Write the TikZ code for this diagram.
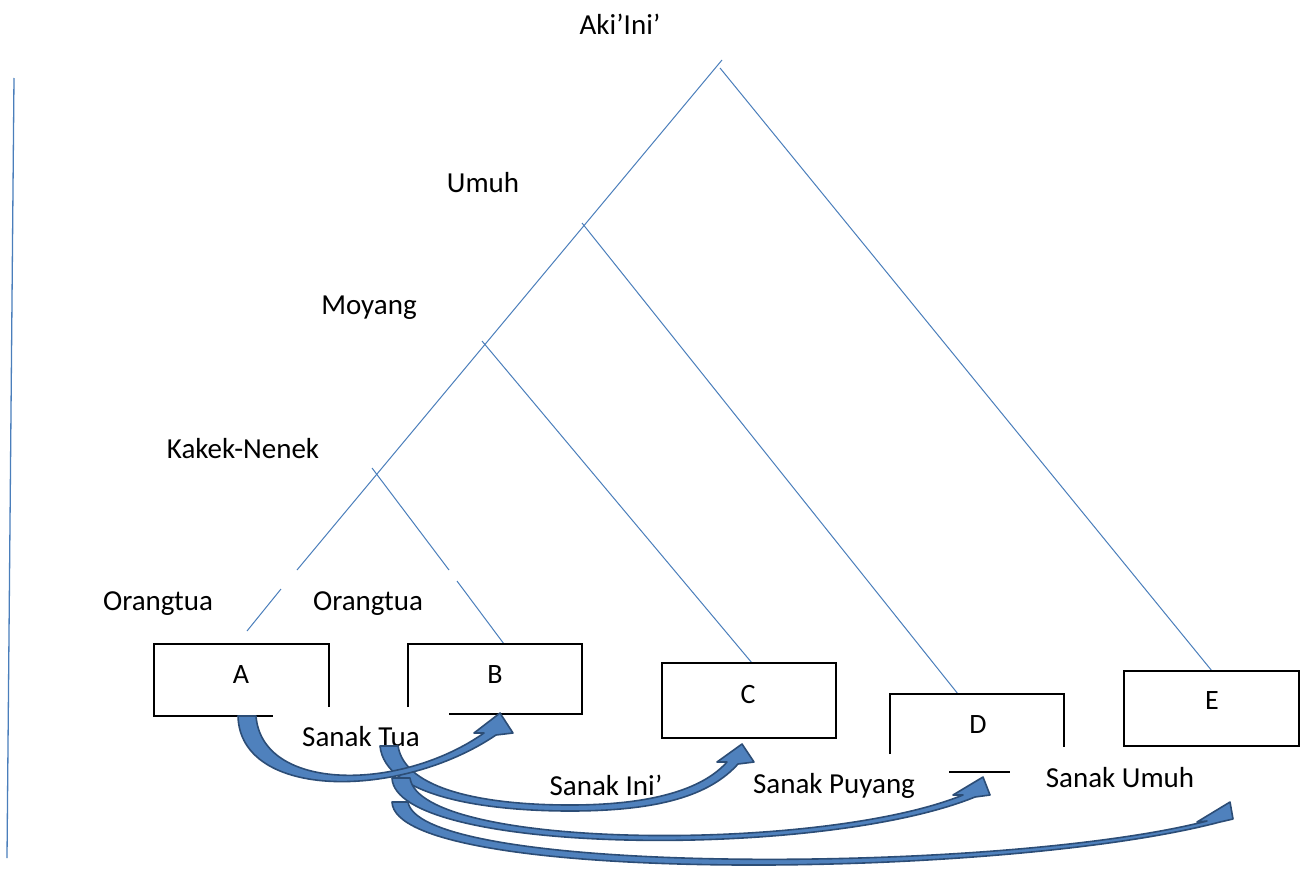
\documentclass[tikz,border=0pt]{standalone}
\usepackage{fontspec}
\setmainfont{Carlito}
\definecolor{linecol}{RGB}{74,126,187}
\definecolor{arrowfill}{RGB}{79,129,189}
\definecolor{arrowdraw}{RGB}{44,77,118}
\begin{document}
\begin{tikzpicture}[x=1pt,y=-1pt,
  lbl/.style={font=\fontsize{29}{34}\selectfont, inner sep=0pt, anchor=base},
  boxlbl/.style={font=\fontsize{28}{33}\selectfont, inner sep=0pt, anchor=base},
  tree/.style={draw=linecol, line width=1pt},
  boxline/.style={draw=black, line width=1.3pt},
  sarrow/.style={fill=arrowfill, draw=arrowdraw, line width=1.6pt, line join=round}]
\useasboundingbox (0,0) rectangle (1303,875);

% left vertical line
\coordinate (vtop) at (14,78);
\coordinate (vbot) at (7,858);
\draw[tree, line width=1.3pt] (vtop) -- (vbot);

% tree coordinates
\coordinate (apexL) at (722,60);
\coordinate (apexR) at (720,68);
\coordinate (gapA1) at (297,570);
\coordinate (gapA2) at (281,589);
\coordinate (endA) at (247,631);
\coordinate (brD) at (582,223);
\coordinate (brC) at (482,341);
\coordinate (brB) at (372,468);
\coordinate (gapB1) at (449,570);
\coordinate (gapB2) at (457,581);
\coordinate (topB) at (504,644);
\coordinate (topC) at (752,663);
\coordinate (topD) at (958,694);
\coordinate (topE) at (1212,671);

\draw[tree] (apexL) -- (gapA1);
\draw[tree] (gapA2) -- (endA);
\draw[tree] (apexR) -- (topE);
\draw[tree] (brD) -- (topD);
\draw[tree] (brC) -- (topC);
\draw[tree] (brB) -- (gapB1);
\draw[tree] (gapB2) -- (topB);

% boxes
\draw[boxline] (329,707) -- (329,644) -- (154,644) -- (154,716) -- (273,716);
\draw[boxline] (408,707) -- (408,644) -- (582,644) -- (582,714) -- (449,714);
\draw[boxline] (662,663) rectangle (836,738);
\draw[boxline] (890,754) -- (890,694) -- (1064,694) -- (1064,747);
\draw[boxline] (949,772) -- (1010,772);
\draw[boxline] (1124,671) rectangle (1299,746);

% labels
\node[lbl] (aki) at (620,35) {Aki’Ini’};
\node[lbl] (umuh) at (483,192) {Umuh};
\node[lbl] (moyang) at (369,314) {Moyang};
\node[lbl] (kakek) at (243,458) {Kakek-Nenek};
\node[lbl] (ortu1) at (158,610) {Orangtua};
\node[lbl] (ortu2) at (368,610) {Orangtua};
\node[boxlbl] (A) at (241,683) {A};
\node[boxlbl] (B) at (495,683) {B};
\node[boxlbl] (C) at (748,703) {C};
\node[boxlbl] (D) at (978,733) {D};
\node[boxlbl] (E) at (1212,709) {E};
\node[lbl] (stua) at (361,746) {Sanak Tua};
\node[lbl] (sini) at (606,795) {Sanak Ini’};
\node[lbl] (spuy) at (834,793) {Sanak Puyang};
\node[lbl] (sumuh) at (1120,787) {Sanak Umuh};

% curved block arrows
% Sanak Ini' (to C)
\draw[sarrow] (380,746) .. controls (385,795) and (480,811) .. (570,811)
  .. controls (660,811) and (710,795) .. (738,764)
  -- (754,762) -- (742,744) -- (717,762) -- (727,762)
  .. controls (702,790) and (650,805) .. (570,805)
  .. controls (485,805) and (405,790) .. (398,746) -- cycle;
% Sanak Tua (to B)
\draw[sarrow] (238,716) .. controls (240,800) and (400,800) .. (496,735)
  -- (513,733) -- (500,713) -- (474,733) -- (484,733)
  .. controls (400,792) and (262,792) .. (256,716) -- cycle;
% Sanak Puyang (to D)
\draw[sarrow] (392,778) .. controls (395,855) and (820,860) .. (975,797)
  -- (990,795) -- (983,777) -- (953,795) -- (963,795)
  .. controls (820,853) and (420,850) .. (410,778) -- cycle;
% Sanak Umuh (to E)
\draw[sarrow] (392,802) .. controls (395,885) and (1000,880) .. (1220,822)
  -- (1233,819) -- (1230,802) -- (1197,822) -- (1207,821)
  .. controls (1000,874) and (420,876) .. (408,802) -- cycle;
\end{tikzpicture}
\end{document}
